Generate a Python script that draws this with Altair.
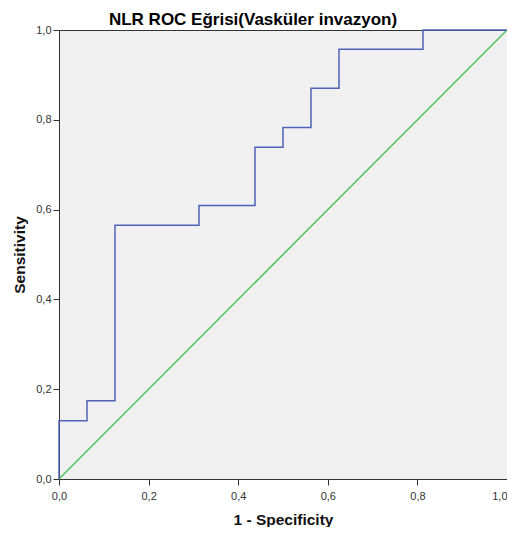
import altair as alt
import pandas as pd

# ROC curve vertices (1 - specificity, sensitivity)
fpr = [0.0, 0.0, 0.0625, 0.0625, 0.125, 0.125, 0.3125, 0.3125, 0.4375, 0.4375,
       0.5, 0.5, 0.5625, 0.5625, 0.625, 0.625, 0.8125, 0.8125, 1.0]
tpr = [0.0, 0.130, 0.130, 0.174, 0.174, 0.565, 0.565, 0.609, 0.609, 0.739,
       0.739, 0.783, 0.783, 0.870, 0.870, 0.957, 0.957, 1.0, 1.0]

ref_x = [0.0, 1.0]
ref_y = [0.0, 1.0]

ticks = [0.0, 0.2, 0.4, 0.6, 0.8, 1.0]

roc = pd.DataFrame({"x": fpr, "y": tpr, "o": list(range(len(fpr)))})
ref = pd.DataFrame({"x": ref_x, "y": ref_y, "o": [0, 1]})

label_expr = "replace(format(datum.value, '.1f'), '.', ',')"

xscale = alt.Scale(domain=[0, 1], nice=False, zero=False)
yscale = alt.Scale(domain=[0, 1], nice=False, zero=False)

xaxis = alt.Axis(title="1 - Specificity", values=ticks, labelExpr=label_expr,
                 grid=False, titleFontSize=15.5, titleFontWeight="bold",
                 titlePadding=11, labelPadding=5,
                 labelAlign={"condition": {"test": "datum.value >= 1", "value": "right"},
                             "value": "center"})
yaxis = alt.Axis(title="Sensitivity", values=ticks, labelExpr=label_expr,
                 grid=False, titleFontSize=15.5, titleFontWeight="bold",
                 titlePadding=8, labelPadding=2)

line_roc = alt.Chart(roc).mark_line(color="#4d62b8", strokeWidth=1.5).encode(
    x=alt.X("x:Q", scale=xscale, axis=xaxis),
    y=alt.Y("y:Q", scale=yscale, axis=yaxis),
    order="o:Q",
)

line_ref = alt.Chart(ref).mark_line(color="#4fc25a", strokeWidth=1.5).encode(
    x=alt.X("x:Q", scale=xscale),
    y=alt.Y("y:Q", scale=yscale),
    order="o:Q",
)

chart = (line_ref + line_roc).properties(
    width=448,
    height=449,
    title=alt.TitleParams("NLR ROC Eğrisi(Vasküler invazyon)", fontSize=17,
                          fontWeight="bold", font="Liberation Sans",
                          anchor="middle", dx=-30, offset=-5, color="#000"),
    padding={"left": 51, "top": 22, "right": 0, "bottom": 48},
    autosize="none",
).configure_view(
    fill="#f0f0f0", stroke="#333333", strokeWidth=1
).configure_axis(
    labelFont="Liberation Sans", titleFont="Liberation Sans",
    labelFontSize=11, labelColor="#333333", titleColor="#111111",
    domainColor="#333333", tickColor="#333333", tickSize=6, domainWidth=1,
)

chart.save("out.html", embed_options={"renderer": "svg", "actions": False})
